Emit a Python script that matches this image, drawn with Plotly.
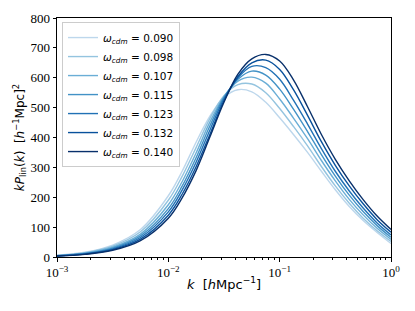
import plotly.graph_objects as go

# wavenumber k [h/Mpc]
k = [0.001, 0.00178, 0.00316, 0.00562, 0.01, 0.0133, 0.0178, 0.0237, 0.0316, 0.0422,
     0.0562, 0.075, 0.1, 0.133, 0.178, 0.237, 0.316, 0.422, 0.562, 0.75, 1.0]

omega_cdm = ["0.090", "0.098", "0.107", "0.115", "0.123", "0.132", "0.140"]

kP_090 = [5.8, 16, 40, 92, 205, 287, 385, 472, 535, 560, 553, 518, 466, 410, 350, 287, 225, 169, 122, 82, 45]
kP_098 = [5.2, 14.5, 36.3, 84.3, 190, 270, 367, 465, 540, 577, 579, 550, 497, 437, 372, 303, 238, 180, 130, 88, 52]
kP_107 = [4.7, 13.0, 32.7, 76.8, 175, 252, 349, 453, 537, 589, 602, 582, 529, 465, 396, 323, 255, 193, 141, 96, 59]
kP_115 = [4.3, 11.8, 29.8, 70.8, 162, 237, 333, 440, 534, 595, 622, 609, 562, 495, 420, 343, 271, 207, 152, 105, 66]
kP_123 = [3.9, 10.7, 27.2, 65.2, 151, 224, 318, 426, 529, 600, 638, 634, 595, 525, 445, 363, 287, 221, 164, 114, 74]
kP_132 = [3.5, 9.7, 24.7, 59.7, 140, 210, 303, 412, 523, 604, 650, 659, 628, 560, 474, 386, 307, 238, 178, 125, 83]
kP_140 = [3.2, 8.8, 22.5, 55, 130, 198, 290, 403, 518, 612, 663, 678, 656, 593, 503, 410, 327, 255, 192, 137, 92]

series = [kP_090, kP_098, kP_107, kP_115, kP_123, kP_132, kP_140]
colors = ['#bdd7ec', '#94c4df', '#6aaed6', '#4292c6', '#2171b5', '#08519c', '#08306b']

x_tickvals = [1e-3, 1e-2, 1e-1, 1]
x_ticktext = ["10<sup>\u22123</sup>", "10<sup>\u22122</sup>", "10<sup>\u22121</sup>", "10<sup>0</sup>"]
y_tickvals = [0, 100, 200, 300, 400, 500, 600, 700, 800]
minor_vals = [m * 10 ** e for e in (-3, -2, -1) for m in range(2, 10)]

fig = go.Figure()
for om, vals, c in zip(omega_cdm, series, colors):
    fig.add_trace(go.Scatter(
        x=k, y=vals, mode='lines',
        line=dict(color=c, width=1.4, shape='spline', smoothing=1.0),
        name="<i>\u03c9</i><sub><i>cdm</i></sub> = " + om,
    ))

# the page body has an 8px margin, so margins are reduced by 8px at left/top
fig.update_layout(
    width=415, height=311,
    margin=dict(l=49, r=32, t=10, b=62),
    paper_bgcolor='white', plot_bgcolor='white',
    font=dict(family='DejaVu Sans', color='black'),
    showlegend=True,
    legend=dict(
        x=0.015, y=0.983, xanchor='left', yanchor='top',
        bgcolor='rgba(255,255,255,0.8)', bordercolor='#cccccc', borderwidth=1,
        font=dict(family='DejaVu Sans', size=10.5, color='black'),
        tracegroupgap=0,
    ),
    xaxis=dict(
        type='log', range=[-3, 0], automargin=False,
        showline=True, linecolor='black', linewidth=1, mirror=True,
        ticks='outside', ticklen=3.5, tickwidth=0.8, tickcolor='black',
        tickvals=x_tickvals, ticktext=x_ticktext,
        tickfont=dict(family='Liberation Serif', size=13, color='black'),
        showgrid=False, zeroline=False,
        minor=dict(ticks='outside', ticklen=2, tickwidth=0.6, tickcolor='black',
                   tickvals=minor_vals, showgrid=False),
        title=dict(text="<i>k</i>  [<i>h</i>Mpc<sup>\u22121</sup>]",
                   font=dict(family='DejaVu Sans', size=13), standoff=0),
    ),
    yaxis=dict(
        range=[0, 800], automargin=False,
        showline=True, linecolor='black', linewidth=1, mirror=True,
        ticks='outside', ticklen=3.5, tickwidth=0.8, tickcolor='black',
        tickvals=y_tickvals,
        tickfont=dict(family='Liberation Serif', size=13, color='black'),
        showgrid=False, zeroline=False,
        title=dict(text="<i>kP</i><sub>lin</sub>(<i>k</i>)  [<i>h</i><sup>\u22121</sup>Mpc]<sup>2</sup>",
                   font=dict(family='DejaVu Sans', size=12), standoff=3),
    ),
)

fig.write_html("out.html")
